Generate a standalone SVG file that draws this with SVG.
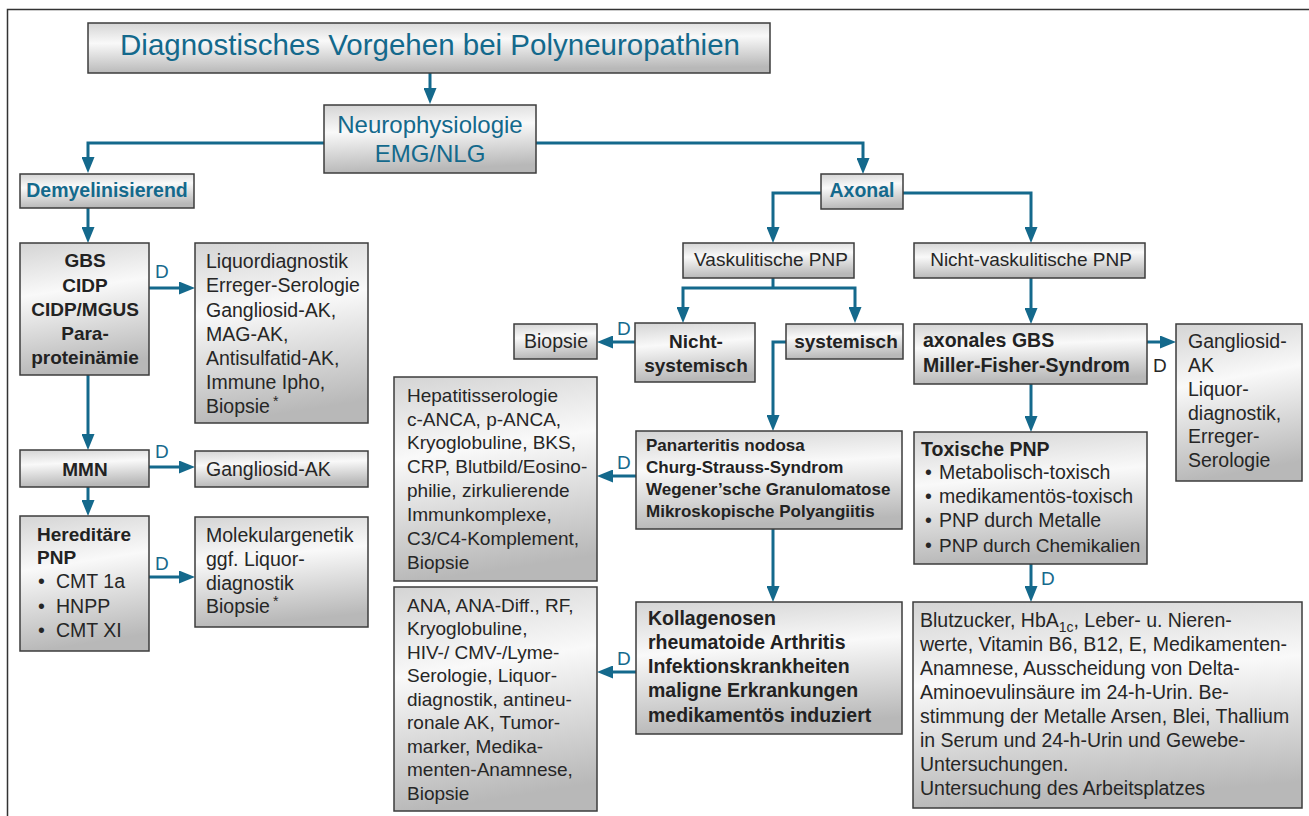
<svg xmlns="http://www.w3.org/2000/svg" width="1309" height="816" viewBox="0 0 1309 816">
<defs>
<linearGradient id="g" x1="0" y1="0" x2="0.15" y2="1">
<stop offset="0" stop-color="#d4d4d4"/>
<stop offset="0.4" stop-color="#f9f9f9"/>
<stop offset="1" stop-color="#b8b8b8"/>
</linearGradient>
<marker id="ah" viewBox="0 0 16 13" refX="8" refY="6.5" markerWidth="16" markerHeight="13" markerUnits="userSpaceOnUse" orient="auto">
<path d="M0,0 L16,6.5 L0,13 z" fill="#14698c"/>
</marker>
<style>
.box{fill:url(#g);stroke:#3c3c3c;stroke-width:1.5}
.t{font-family:"Liberation Sans",Arial,sans-serif;font-size:19.5px;fill:#262626}
.s{font-size:19px}
.b{font-weight:bold;fill:#222}
.teal{fill:#14698c}
.m{text-anchor:middle}
.con{fill:none;stroke:#14698c;stroke-width:3}
.arr{marker-end:url(#ah)}
.d{font-family:"Liberation Sans",Arial,sans-serif;font-size:19px;fill:#14698c}
</style>
</defs>
<rect x="0" y="0" width="1309" height="816" fill="#ffffff"/>
<path d="M7.5,830 V9.5 H1320" fill="none" stroke="#333" stroke-width="1.5"/>

<g id="connectors">
<path class="con arr" d="M430,73 V96"/>
<path class="con arr" d="M324,143 H88 V165"/>
<path class="con arr" d="M536,143 H863 V166"/>
<path class="con arr" d="M88,208 V235"/>
<path class="con arr" d="M88,375 V442"/>
<path class="con arr" d="M88,487 V508"/>
<path class="con arr" d="M149,288 H187"/>
<path class="con arr" d="M149,467 H187"/>
<path class="con arr" d="M149,577 H187"/>
<path class="con arr" d="M821,193 H773 V235"/>
<path class="con arr" d="M903,193 H1031 V235"/>
<path class="con" d="M773,278 V288"/>
<path class="con arr" d="M773,288 H683 V315"/>
<path class="con arr" d="M773,288 H855 V315"/>
<path class="con arr" d="M635,342 H605"/>
<path class="con arr" d="M786,342 H773 V423"/>
<path class="con arr" d="M636,476 H605"/>
<path class="con arr" d="M773,529 V594"/>
<path class="con arr" d="M636,672 H605"/>
<path class="con arr" d="M1031,278 V316"/>
<path class="con arr" d="M1147,342 H1168"/>
<path class="con arr" d="M1031,384 V424"/>
<path class="con arr" d="M1031,564 V594"/>
<text class="d" x="155" y="278">D</text>
<text class="d" x="155" y="458">D</text>
<text class="d" x="155" y="570">D</text>
<text class="d" x="617" y="335">D</text>
<text class="d" x="617" y="469">D</text>
<text class="d" x="617" y="665">D</text>
<text class="d" x="1153" y="372" style="fill:#262626">D</text>
<text class="d" x="1041" y="585">D</text>
</g>

<g id="title">
<rect class="box" x="88" y="23" width="682" height="50"/>
<text class="t teal m" x="430" y="55" style="font-size:29.5px">Diagnostisches Vorgehen bei Polyneuropathien</text>
</g>

<g id="neurophysiologie">
<rect class="box" x="324" y="105" width="212" height="68"/>
<text class="t teal m" x="430" y="133" style="font-size:24px">Neurophysiologie</text>
<text class="t teal m" x="430" y="162" style="font-size:24px">EMG/NLG</text>
</g>

<g id="demyelinisierend">
<rect class="box" x="20" y="174" width="174" height="34"/>
<text class="t b teal m" x="107" y="197" style="fill:#14698c">Demyelinisierend</text>
</g>

<g id="axonal">
<rect class="box" x="821" y="174" width="82" height="35"/>
<text class="t b m" x="862" y="197" style="fill:#14698c">Axonal</text>
</g>

<g id="gbs">
<rect class="box" x="20" y="243" width="129" height="132"/>
<text class="t b m" x="85" y="267" style="font-size:19px">GBS</text>
<text class="t b m" x="85" y="291.5" style="font-size:19px">CIDP</text>
<text class="t b m" x="85" y="316" style="font-size:19px">CIDP/MGUS</text>
<text class="t b m" x="85" y="340" style="font-size:19px">Para-</text>
<text class="t b m" x="85" y="363.5" style="font-size:19px">proteinämie</text>
</g>

<g id="liquordiagnostik">
<rect class="box" x="195" y="243" width="173" height="180"/>
<text class="t" x="206" y="268">Liquordiagnostik</text>
<text class="t" x="206" y="292">Erreger-Serologie</text>
<text class="t" x="206" y="317">Gangliosid-AK,</text>
<text class="t" x="206" y="341">MAG-AK,</text>
<text class="t" x="206" y="365">Antisulfatid-AK,</text>
<text class="t" x="206" y="389">Immune Ipho,</text>
<text class="t" x="206" y="413">Biopsie<tspan dx="3" dy="-7" style="font-size:14px">*</tspan></text>
</g>

<g id="mmn">
<rect class="box" x="20" y="450" width="129" height="37"/>
<text class="t b m" x="85" y="476" style="font-size:19px">MMN</text>
</g>

<g id="gangliosid-ak">
<rect class="box" x="195" y="451" width="173" height="36"/>
<text class="t" x="206" y="476">Gangliosid-AK</text>
</g>

<g id="hereditaere">
<rect class="box" x="20" y="516" width="129" height="135"/>
<text class="t b" x="37" y="541" style="font-size:19px">Hereditäre</text>
<text class="t b" x="37" y="564" style="font-size:19px">PNP</text>
<text class="t" x="38" y="588">•</text><text class="t" x="56" y="588">CMT 1a</text>
<text class="t" x="38" y="612.5">•</text><text class="t" x="56" y="612.5">HNPP</text>
<text class="t" x="38" y="637">•</text><text class="t" x="56" y="637">CMT XI</text>
</g>

<g id="molekulargenetik">
<rect class="box" x="195" y="517" width="173" height="110"/>
<text class="t" x="206" y="542">Molekulargenetik</text>
<text class="t" x="206" y="566">ggf. Liquor-</text>
<text class="t" x="206" y="590">diagnostik</text>
<text class="t" x="206" y="613">Biopsie<tspan dx="3" dy="-7" style="font-size:14px">*</tspan></text>
</g>

<g id="vaskulitische">
<rect class="box" x="683" y="243" width="171" height="35"/>
<text class="t m" x="771" y="266" style="font-size:19px">Vaskulitische PNP</text>
</g>

<g id="nicht-vaskulitische">
<rect class="box" x="914" y="243" width="231" height="35"/>
<text class="t m" x="1031" y="266" style="font-size:19px">Nicht-vaskulitische PNP</text>
</g>

<g id="biopsie">
<rect class="box" x="514" y="324" width="83" height="35"/>
<text class="t m" x="556" y="348">Biopsie</text>
</g>

<g id="nicht-systemisch">
<rect class="box" x="635" y="323" width="120" height="59"/>
<text class="t b m" x="696" y="348" style="font-size:19px">Nicht-</text>
<text class="t b m" x="696" y="372" style="font-size:19px">systemisch</text>
</g>

<g id="systemisch">
<rect class="box" x="786" y="324" width="117" height="35"/>
<text class="t b m" x="846" y="348" style="font-size:19px">systemisch</text>
</g>

<g id="hepatitis">
<rect class="box" x="394" y="377" width="203" height="204"/>
<text class="t s" x="407" y="402">Hepatitisserologie</text>
<text class="t s" x="407" y="425.5">c-ANCA, p-ANCA,</text>
<text class="t s" x="407" y="449">Kryoglobuline, BKS,</text>
<text class="t s" x="407" y="473">CRP, Blutbild/Eosino-</text>
<text class="t s" x="407" y="497">philie, zirkulierende</text>
<text class="t s" x="407" y="521">Immunkomplexe,</text>
<text class="t s" x="407" y="545">C3/C4-Komplement,</text>
<text class="t s" x="407" y="569">Biopsie</text>
</g>

<g id="panarteritis">
<rect class="box" x="636" y="431" width="266" height="98"/>
<text class="t b" x="646" y="451" style="font-size:17px">Panarteritis nodosa</text>
<text class="t b" x="646" y="473" style="font-size:17px">Churg-Strauss-Syndrom</text>
<text class="t b" x="646" y="495" style="font-size:17px">Wegener’sche Granulomatose</text>
<text class="t b" x="646" y="517" style="font-size:17px">Mikroskopische Polyangiitis</text>
</g>

<g id="ana">
<rect class="box" x="394" y="587" width="203" height="224"/>
<text class="t s" x="407" y="612">ANA, ANA-Diff., RF,</text>
<text class="t s" x="407" y="635">Kryoglobuline,</text>
<text class="t s" x="407" y="658.5">HIV-/ CMV-/Lyme-</text>
<text class="t s" x="407" y="682">Serologie, Liquor-</text>
<text class="t s" x="407" y="705.5">diagnostik, antineu-</text>
<text class="t s" x="407" y="729">ronale AK, Tumor-</text>
<text class="t s" x="407" y="752.5">marker, Medika-</text>
<text class="t s" x="407" y="776">menten-Anamnese,</text>
<text class="t s" x="407" y="800">Biopsie</text>
</g>

<g id="kollagenosen">
<rect class="box" x="636" y="602" width="266" height="132"/>
<text class="t b" x="648" y="625">Kollagenosen</text>
<text class="t b" x="648" y="649">rheumatoide Arthritis</text>
<text class="t b" x="648" y="673">Infektionskrankheiten</text>
<text class="t b" x="648" y="697">maligne Erkrankungen</text>
<text class="t b" x="648" y="722">medikamentös induziert</text>
</g>

<g id="axonales-gbs">
<rect class="box" x="914" y="324" width="233" height="60"/>
<text class="t b" x="923" y="347">axonales GBS</text>
<text class="t b" x="923" y="372">Miller-Fisher-Syndrom</text>
</g>

<g id="gangliosid-rechts">
<rect class="box" x="1176" y="324" width="126" height="157"/>
<text class="t" x="1188" y="348">Gangliosid-</text>
<text class="t" x="1188" y="372">AK</text>
<text class="t" x="1188" y="396">Liquor-</text>
<text class="t" x="1188" y="420">diagnostik,</text>
<text class="t" x="1188" y="443">Erreger-</text>
<text class="t" x="1188" y="467">Serologie</text>
</g>

<g id="toxische">
<rect class="box" x="914" y="432" width="233" height="132"/>
<text class="t b" x="921" y="456">Toxische PNP</text>
<text class="t" x="925" y="479">•</text><text class="t" x="939" y="479">Metabolisch-toxisch</text>
<text class="t" x="925" y="503">•</text><text class="t" x="939" y="503">medikamentös-toxisch</text>
<text class="t" x="925" y="527">•</text><text class="t" x="939" y="527">PNP durch Metalle</text>
<text class="t" x="925" y="552">•</text><text class="t" x="939" y="552" style="font-size:19px">PNP durch Chemikalien</text>
</g>

<g id="blutzucker">
<rect class="box" x="913" y="602" width="389" height="206"/>
<text class="t" x="920" y="627">Blutzucker, HbA<tspan dy="5" style="font-size:14px">1c</tspan><tspan dy="-5">, Leber- u. Nieren-</tspan></text>
<text class="t" x="920" y="651">werte, Vitamin B6, B12, E, Medikamenten-</text>
<text class="t" x="920" y="675">Anamnese, Ausscheidung von Delta-</text>
<text class="t" x="920" y="699">Aminoevulinsäure im 24-h-Urin. Be-</text>
<text class="t" x="920" y="723">stimmung der Metalle Arsen, Blei, Thallium</text>
<text class="t" x="920" y="747">in Serum und 24-h-Urin und Gewebe-</text>
<text class="t" x="920" y="771">Untersuchungen.</text>
<text class="t" x="920" y="795">Untersuchung des Arbeitsplatzes</text>
</g>
</svg>
